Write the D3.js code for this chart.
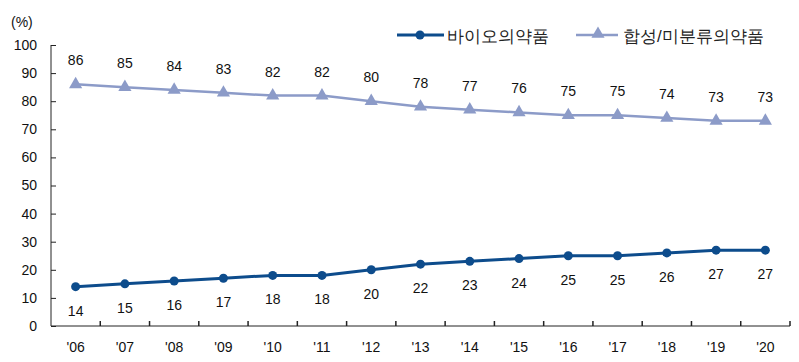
<!DOCTYPE html>
<html><head><meta charset="utf-8">
<script src="https://cdn.jsdelivr.net/npm/d3@7"></script>
<style>body{margin:0;background:#fff}svg{display:block}text{font-family:"Liberation Sans",Arial,sans-serif}</style>
</head><body><svg id="c" width="799" height="362"></svg>
<script>
const years = ["'06","'07","'08","'09","'10","'11","'12","'13","'14","'15","'16","'17","'18","'19","'20"];
const bio = [14,15,16,17,18,18,20,22,23,24,25,25,26,27,27];
const synth = [86,85,84,83,82,82,80,78,77,76,75,75,74,73,73];
const yTicks = [0,10,20,30,40,50,60,70,80,90,100];
const seriesNames = ["바이오의약품","합성/미분류의약품"];
const colBio = "#0d4c8c", colSyn = "#8c9bc8";

const svg = d3.select("#c");
const x = d3.scaleBand().domain(years).range([51,790]);
const y = d3.scaleLinear().domain([0,100]).range([326,45]);
const cx = d => x(d) + x.bandwidth()/2;

// y axis
const ya = svg.append("g").attr("transform","translate(51,0)")
  .call(d3.axisRight(y).tickValues(yTicks).tickSize(5).tickFormat(d=>d));
ya.select(".domain").attr("d","M0,45V326").attr("stroke","#222");
ya.selectAll(".tick line").attr("stroke","#222");
ya.selectAll(".tick text").attr("x",-14).attr("text-anchor","end").attr("font-size",14).attr("fill","#111");

// x axis
const xa = svg.append("g").attr("transform","translate(0,326)");
xa.append("line").attr("x1",51).attr("x2",790).attr("stroke","#222");
const bounds = years.map(d=>x(d)+x.bandwidth());
xa.selectAll(".t").data(bounds).enter().append("line")
  .attr("x1",d=>d).attr("x2",d=>d).attr("y1",0).attr("y2",-5).attr("stroke","#222").attr("stroke-width",1.5);
xa.selectAll(".l").data(years).enter().append("text")
  .attr("x",d=>cx(d)).attr("y",26).attr("text-anchor","middle").attr("font-size",14).attr("fill","#111").text(d=>d);

svg.append("text").attr("x",11).attr("y",27).attr("font-size",14).attr("fill","#111").text("(%)");

const line = d3.line().x((d,i)=>cx(years[i])).y(d=>y(d));
// synth
svg.append("path").datum(synth).attr("d",line).attr("fill","none").attr("stroke",colSyn).attr("stroke-width",2.5);
const tri = d3.symbol().type(d3.symbolTriangle).size(75);
svg.selectAll(".tri").data(synth).enter().append("path")
  .attr("d",tri).attr("transform",(d,i)=>`translate(${cx(years[i])},${y(d)})`).attr("fill",colSyn);
svg.selectAll(".sl").data(synth).enter().append("text")
  .attr("x",(d,i)=>cx(years[i])).attr("y",d=>y(d)-19).attr("text-anchor","middle").attr("font-size",14).attr("fill","#111").text(d=>d);
// bio
svg.append("path").datum(bio).attr("d",line).attr("fill","none").attr("stroke",colBio).attr("stroke-width",3);
svg.selectAll(".cir").data(bio).enter().append("circle")
  .attr("cx",(d,i)=>cx(years[i])).attr("cy",d=>y(d)).attr("r",4.5).attr("fill",colBio);
svg.selectAll(".bl").data(bio).enter().append("text")
  .attr("x",(d,i)=>cx(years[i])).attr("y",d=>y(d)+29).attr("text-anchor","middle").attr("font-size",14).attr("fill","#111").text(d=>d);

// legend
const lg = svg.append("g");
lg.append("line").attr("x1",397).attr("x2",444).attr("y1",35).attr("y2",35).attr("stroke",colBio).attr("stroke-width",3);
lg.append("circle").attr("cx",420).attr("cy",35).attr("r",4.5).attr("fill",colBio);
lg.append("text").attr("x",447).attr("y",42).attr("font-size",17).attr("fill","#222").attr("font-family","'Noto Sans CJK KR',sans-serif").text(seriesNames[0]);
lg.append("line").attr("x1",576).attr("x2",618).attr("y1",35).attr("y2",35).attr("stroke",colSyn).attr("stroke-width",2.5);
lg.append("path").attr("d",tri).attr("transform","translate(598,34)").attr("fill",colSyn);
lg.append("text").attr("x",623).attr("y",42).attr("font-size",17).attr("fill","#222").attr("font-family","'Noto Sans CJK KR',sans-serif").text(seriesNames[1]);
</script></body></html>
